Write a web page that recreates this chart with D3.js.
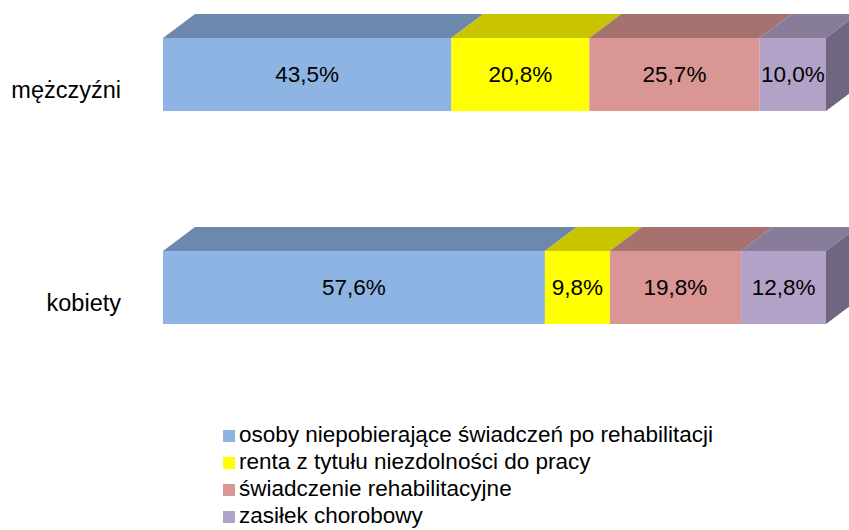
<!DOCTYPE html>
<meta charset="utf-8">
<style>
body { margin: 0; background: #fff; }
text { font-family: 'Liberation Sans', Arial, sans-serif; fill: #000; }
</style>
<body>
<script src="https://d3js.org/d3.v7.min.js"></script>
<script>
// groups and shares (%) per benefit type
const groups = ["mężczyźni", "kobiety"];
const series = [
  "osoby niepobierające świadczeń po rehabilitacji",
  "renta z tytułu niezdolności do pracy",
  "świadczenie rehabilitacyjne",
  "zasiłek chorobowy"
];
const valNieswiad = [43.5, 57.6];
const valRenta = [20.8, 9.8];
const valRehab = [25.7, 19.8];
const valZasilek = [10.0, 12.8];

const frontColors = ["#8eb4e3", "#ffff00", "#d99694", "#b3a2c7"];
const topColors = ["#6d88ad", "#c8c400", "#a6726f", "#877c99"];
const sideColor = "#716682";

const width = 849, height = 530;
const dx = 32, dy = 24; // 3d depth

const svg = d3.select("body").append("svg")
    .attr("width", width)
    .attr("height", height);

const rows = groups.map((g, i) => ({
  group: g,
  values: [valNieswiad[i], valRenta[i], valRehab[i], valZasilek[i]]
}));

const x = d3.scaleLinear().domain([0, 100]).range([163, 826]);
const y = d3.scaleBand().domain(groups).range([38, 324]).paddingInner(0.657);
const bh = y.bandwidth();

const fmt = v => d3.format(".1f")(v).replace(".", ",") + "%";

rows.forEach(r => {
  let acc = 0;
  r.segs = r.values.map((v, k) => {
    const s = { k, v, x0: acc, x1: acc + v };
    acc += v;
    return s;
  });
});

const bars = svg.append("g").selectAll("g")
  .data(rows)
  .join("g")
    .attr("transform", d => `translate(0,${y(d.group)})`);

// top faces
bars.selectAll("path.top")
  .data(d => d.segs)
  .join("path")
    .attr("class", "top")
    .attr("fill", d => topColors[d.k])
    .attr("d", d => `M${x(d.x0)},0L${x(d.x0) + dx},${-dy}L${x(d.x1) + dx},${-dy}L${x(d.x1)},0Z`);

// right side of the last segment
bars.append("path")
    .attr("fill", sideColor)
    .attr("d", d => {
      const xe = x(d3.sum(d.values));
      return `M${xe},0L${xe + dx},${-dy}L${xe + dx},${bh - dy}L${xe},${bh}Z`;
    });

// front faces
bars.selectAll("rect.front")
  .data(d => d.segs)
  .join("rect")
    .attr("class", "front")
    .attr("x", d => x(d.x0))
    .attr("width", d => x(d.x1) - x(d.x0))
    .attr("height", bh)
    .attr("fill", d => frontColors[d.k]);

// value labels
bars.selectAll("text.val")
  .data(d => d.segs)
  .join("text")
    .attr("class", "val")
    .attr("x", d => (x(d.x0) + x(d.x1)) / 2)
    .attr("y", bh / 2)
    .attr("dy", "0.35em")
    .attr("text-anchor", "middle")
    .style("font-size", "22.5px")
    .text(d => fmt(d.v));

// category labels
svg.append("g").selectAll("text")
  .data(groups)
  .join("text")
    .attr("x", 121)
    .attr("y", d => y(d) + bh / 2 + 15)
    .attr("dy", "0.35em")
    .attr("text-anchor", "end")
    .style("font-size", "23.5px")
    .text(d => d);

// legend
const legend = svg.append("g").selectAll("g")
  .data(series)
  .join("g")
    .attr("transform", (d, i) => `translate(223,${442 + i * 27})`);

legend.append("rect")
    .attr("y", -12)
    .attr("width", 12)
    .attr("height", 12)
    .attr("fill", (d, i) => frontColors[i]);

legend.append("text")
    .attr("x", 16)
    .style("font-size", "22.5px")
    .text(d => d);
</script>
</body>
